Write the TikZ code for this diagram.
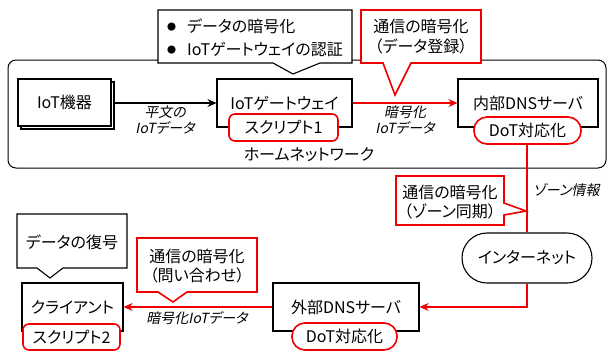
\documentclass[tikz,border=0pt]{standalone}
\usepackage{fontspec}
\setmainfont{Noto Sans CJK JP}[RawFeature=+palt]
\newfontfamily\jpit{Noto Sans CJK JP}[RawFeature=+palt,FakeSlant=0.2]
\usetikzlibrary{arrows.meta}
\definecolor{cred}{RGB}{240,0,0}
\begin{document}
\begin{tikzpicture}[x=1pt,y=-1pt,
  every node/.style={font=\fontsize{16}{20}\selectfont, inner sep=0pt},
  box/.style={draw=black, line width=1.1pt, fill=white},
  redtag/.style={draw=cred, line width=1.6pt, fill=white, rounded corners=6pt},
  redpill/.style={draw=cred, line width=1.6pt, fill=white, rounded corners=13pt},
  calk/.style={draw=black, line width=1.1pt, fill=white, line join=miter},
  calr/.style={draw=cred, line width=1.6pt, fill=white, line join=miter},
  lab/.style={font=\jpit\fontsize{14}{16}\selectfont, align=center},
  blk/.style={line width=1.1pt, -{Stealth[length=9pt,width=8pt]}},
  rd/.style={draw=cred, line width=1.6pt},
  rda/.style={draw=cred, line width=1.6pt, -{Stealth[length=9pt,width=8pt]}}
]
\useasboundingbox (0,0) rectangle (608,354);
\fill[white] (0,0) rectangle (608,354);

% home network
\node[draw=black, line width=1pt, rounded corners=8pt, minimum width=598pt, minimum height=108pt] (home) at (307,114) {};
\node (homelab) at (309,155) {ホームネットワーク};

% IoT devices (stacked)
\path[box] (21,82) rectangle (114,129);
\node[box, minimum width=93pt, minimum height=47pt] (iot) at (64.5,102.5) {IoT機器};

% gateway
\node[box, minimum width=135pt, minimum height=48pt] (gw) at (284.5,103) {IoTゲートウェイ};
\node[redtag, minimum width=109pt, minimum height=27pt] (scr1) at (283.5,127.5) {スクリプト1};

% internal DNS
\node[box, minimum width=140pt, minimum height=48pt] (dns1) at (528,103) {内部DNSサーバ};
\node[redpill, minimum width=107pt, minimum height=27pt] (dot1) at (527.5,130.5) {DoT対応化};

% internet
\node[draw=black, line width=1.1pt, fill=white, rounded corners=25pt, minimum width=130pt, minimum height=50pt] (net) at (527,258) {インターネット};

% external DNS
\node[box, minimum width=146pt, minimum height=48pt] (dns2) at (346,307) {外部DNSサーバ};
\node[redpill, minimum width=105pt, minimum height=27pt] (dot2) at (344.5,336.5) {DoT対応化};

% client
\node[box, minimum width=101pt, minimum height=48pt] (cl) at (72.5,307) {クライアント};
\node[redtag, minimum width=97pt, minimum height=26pt] (scr2) at (71.5,337) {スクリプト2};

% connectors
\draw[blk] (114,103) -- (gw.west |- 0,103);
\node[lab] (l1) at (165,120) {平文の\\IoTデータ};
\draw[rda] (gw.east |- 0,103) -- (dns1.west |- 0,103);
\node[lab] (l2) at (405,120) {暗号化\\IoTデータ};
\draw[rd] (dot1.south -| 527,0) -- (net.north);
\node[lab, anchor=west] (l3) at (533,190) {ゾーン情報};
\coordinate (bend) at (527,307);
\draw[rda] (net.south) -- (bend) -- (dns2.east);
\draw[rda] (dns2.west) -- (cl.east);
\node[lab] (l4) at (197,318) {暗号化IoTデータ};

% callout 1 (black)
\path[calk] (158,10) -- (352,10) -- (352,63) -- (320,63) -- (293,74) -- (273,63) -- (158,63) -- cycle;
\node[anchor=west, align=left, font=\fontsize{16}{23}\selectfont] (c1) at (167,37.5)
  {\makebox[20pt][l]{\raisebox{1.5pt}{\fontsize{9}{9}\selectfont ●}}データの暗号化\\
   \makebox[20pt][l]{\raisebox{1.5pt}{\fontsize{9}{9}\selectfont ●}}IoTゲートウェイの認証};

% callout 2 (red)
\path[calr] (361,10) -- (481,10) -- (481,63) -- (411,63) -- (395,95) -- (383,63) -- (361,63) -- cycle;
\node[align=center] (c2) at (421,37) {通信の暗号化\\（データ登録）};

% callout 3 (red)
\path[calr] (396,176) -- (504,176) -- (504,203) -- (526,211) -- (504,215) -- (504,225) -- (396,225) -- cycle;
\node[align=center, font=\fontsize{16}{19}\selectfont] (c3) at (450,202.5) {通信の暗号化\\（ゾーン同期）};

% callout 4 (black)
\path[calk] (17,214) -- (127,214) -- (127,268) -- (63,268) -- (50,278) -- (37,268) -- (17,268) -- cycle;
\node (c4) at (72,242) {データの復号};

% callout 5 (red)
\path[calr] (137,238) -- (257,238) -- (257,292) -- (187,292) -- (173,302) -- (158,292) -- (137,292) -- cycle;
\node[align=center, font=\fontsize{16}{19}\selectfont] (c5) at (197,266.5) {通信の暗号化\\（問い合わせ）};
\end{tikzpicture}
\end{document}
